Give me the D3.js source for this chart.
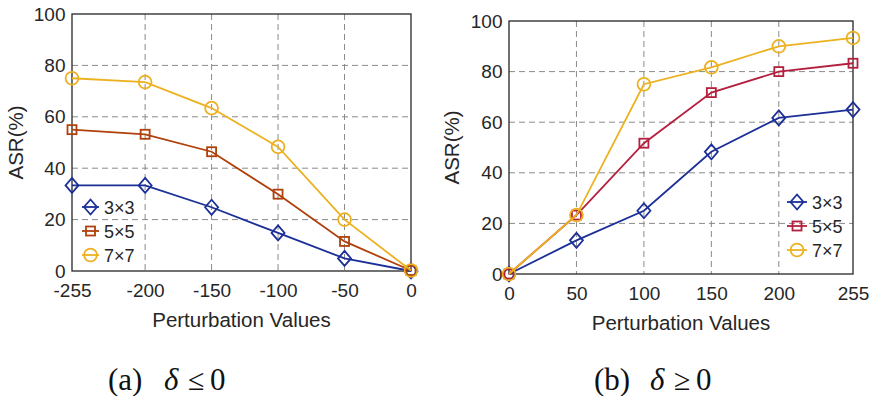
<!DOCTYPE html>
<html>
<head>
<meta charset="utf-8">
<script src="https://cdn.jsdelivr.net/npm/d3@7"></script>
<style>
  html, body { margin: 0; padding: 0; background: #fff; }
  svg { display: block; }
</style>
</head>
<body>
<svg id="chart" width="871" height="396"></svg>
<script>
// Attack success rate for each filter size across perturbation values
const seriesNames = ["3\u00d73", "5\u00d75", "7\u00d77"];

const negX = [-255, -200, -150, -100, -50, 0];
const negTickLabels = ["-255", "-200", "-150", "-100", "-50", "0"];
const neg3 = [33.3, 33.3, 24.8, 14.8, 4.9, 0];
const neg5 = [55.0, 53.2, 46.4, 29.9, 11.5, 0.2];
const neg7 = [75.0, 73.5, 63.4, 48.3, 20.0, 0.2];

const posX = [0, 50, 100, 150, 200, 255];
const posTickLabels = ["0", "50", "100", "150", "200", "255"];
const pos3 = [0, 13.3, 25.0, 48.3, 61.7, 65.0];
const pos5 = [0, 23.3, 51.7, 71.7, 80.0, 83.3];
const pos7 = [0, 23.3, 75.0, 81.7, 90.0, 93.3];

const yTicks = [0, 20, 40, 60, 80, 100];

const svg = d3.select("#chart");
const font = "'Liberation Sans', Arial, Helvetica, sans-serif";
const serif = "'Liberation Serif', 'Times New Roman', serif";
const ink = "#262626";

function drawMarker(g, shape, cx, cy, color) {
  if (shape === "diamond") {
    const h = 7.5, w = 6.5;
    g.append("path").attr("d", `M${cx},${cy - h}L${cx + w},${cy}L${cx},${cy + h}L${cx - w},${cy}Z`)
      .attr("fill", "none").attr("stroke", color).attr("stroke-width", 1.8);
  } else if (shape === "square") {
    g.append("rect").attr("x", cx - 4.5).attr("y", cy - 4.5)
      .attr("width", 9).attr("height", 9)
      .attr("fill", "none").attr("stroke", color).attr("stroke-width", 1.8);
  } else {
    g.append("circle").attr("cx", cx).attr("cy", cy).attr("r", 6.4)
      .attr("fill", "none").attr("stroke", color).attr("stroke-width", 1.8);
  }
}

function panel(opts) {
  const { left, right, top, bottom, xs, tickLabels, series, colors, legend, ylabelX, caption } = opts;
  const x = d3.scaleLinear().domain(d3.extent(xs)).range([left, right]);
  const y = d3.scaleLinear().domain([0, 100]).range([bottom, top]);
  const g = svg.append("g");

  // dashed grid
  g.append("g").selectAll("line").data(xs.slice(1, -1)).join("line")
    .attr("x1", d => x(d)).attr("x2", d => x(d)).attr("y1", top).attr("y2", bottom)
    .attr("stroke", "#8a8a8a").attr("stroke-width", 1).attr("stroke-dasharray", "6,4");
  g.append("g").selectAll("line").data(yTicks.slice(1, -1)).join("line")
    .attr("x1", left).attr("x2", right).attr("y1", d => y(d)).attr("y2", d => y(d))
    .attr("stroke", "#8a8a8a").attr("stroke-width", 1).attr("stroke-dasharray", "6,4");

  // axes
  const xAxis = d3.axisBottom(x).tickValues(xs).tickFormat((d, i) => tickLabels[i]).tickSize(0).tickPadding(13);
  const xa = g.append("g").attr("transform", `translate(0,${bottom})`).call(xAxis);
  const yAxis = d3.axisLeft(y).tickValues(yTicks).tickSize(0).tickPadding(6.5);
  const ya = g.append("g").attr("transform", `translate(${left},0)`).call(yAxis);
  [xa, ya].forEach(a => {
    a.select(".domain").remove();
    a.selectAll("text").attr("font-family", font).attr("font-size", 19).attr("fill", ink);
  });

  // box
  g.append("rect").attr("x", left).attr("y", top).attr("width", right - left).attr("height", bottom - top)
    .attr("fill", "none").attr("stroke", ink).attr("stroke-width", 1.3);

  // axis titles
  g.append("text").attr("x", (left + right) / 2).attr("y", bottom + 56)
    .attr("text-anchor", "middle").attr("font-family", font).attr("font-size", 20.5).attr("fill", ink)
    .text("Perturbation Values");
  g.append("text").attr("transform", `translate(${ylabelX},${(top + bottom) / 2}) rotate(-90)`)
    .attr("text-anchor", "middle").attr("font-family", font).attr("font-size", 20.5).attr("fill", ink)
    .text("ASR(%)");

  const shapes = ["diamond", "square", "circle"];
  const line = d3.line().x((d, i) => x(xs[i])).y(d => y(d));
  series.forEach((vals, k) => {
    const s = g.append("g");
    s.append("path").attr("d", line(vals)).attr("fill", "none")
      .attr("stroke", colors[k]).attr("stroke-width", 1.8);
    vals.forEach((v, i) => drawMarker(s, shapes[k], x(xs[i]), y(v), colors[k]));
  });

  // legend
  seriesNames.forEach((name, k) => {
    const ly = legend.y + k * legend.dy;
    g.append("line").attr("x1", legend.x).attr("x2", legend.x + legend.len).attr("y1", ly).attr("y2", ly)
      .attr("stroke", colors[k]).attr("stroke-width", 1.8);
    drawMarker(g, shapes[k], legend.x + legend.len / 2, ly, colors[k]);
    g.append("text").attr("x", legend.x + legend.len + 5).attr("y", ly + 6.5)
      .attr("font-family", font).attr("font-size", 18).attr("fill", ink).text(name);
  });

  // caption: "(x)  δ ≤ 0"
  const cy = 390;
  const cap = svg.append("g").attr("font-family", serif).attr("fill", "#111");
  cap.append("text").attr("x", caption.x).attr("y", cy).attr("font-size", 31).text(caption.label);
  cap.append("text").attr("x", caption.x + 56).attr("y", cy).attr("font-size", 31)
    .attr("font-style", "italic").text("\u03b4");
  cap.append("text").attr("x", caption.x + 80).attr("y", cy).attr("font-size", 30).text(caption.rel);
  cap.append("text").attr("x", caption.x + 102).attr("y", cy).attr("font-size", 31).text("0");
}

panel({
  left: 72, right: 411, top: 14, bottom: 271,
  xs: negX, tickLabels: negTickLabels,
  series: [neg3, neg5, neg7],
  colors: ["#1b2f97", "#b0400c", "#edb120"],
  legend: { x: 82, y: 207, dy: 24, len: 17 },
  ylabelX: 23,
  caption: { x: 108, label: "(a)", rel: "\u2264" }
});

panel({
  left: 509, right: 853, top: 21, bottom: 274,
  xs: posX, tickLabels: posTickLabels,
  series: [pos3, pos5, pos7],
  colors: ["#1b2f97", "#b51f3e", "#edb120"],
  legend: { x: 787, y: 202, dy: 24, len: 20 },
  ylabelX: 459,
  caption: { x: 594, label: "(b)", rel: "\u2265" }
});
</script>
</body>
</html>
